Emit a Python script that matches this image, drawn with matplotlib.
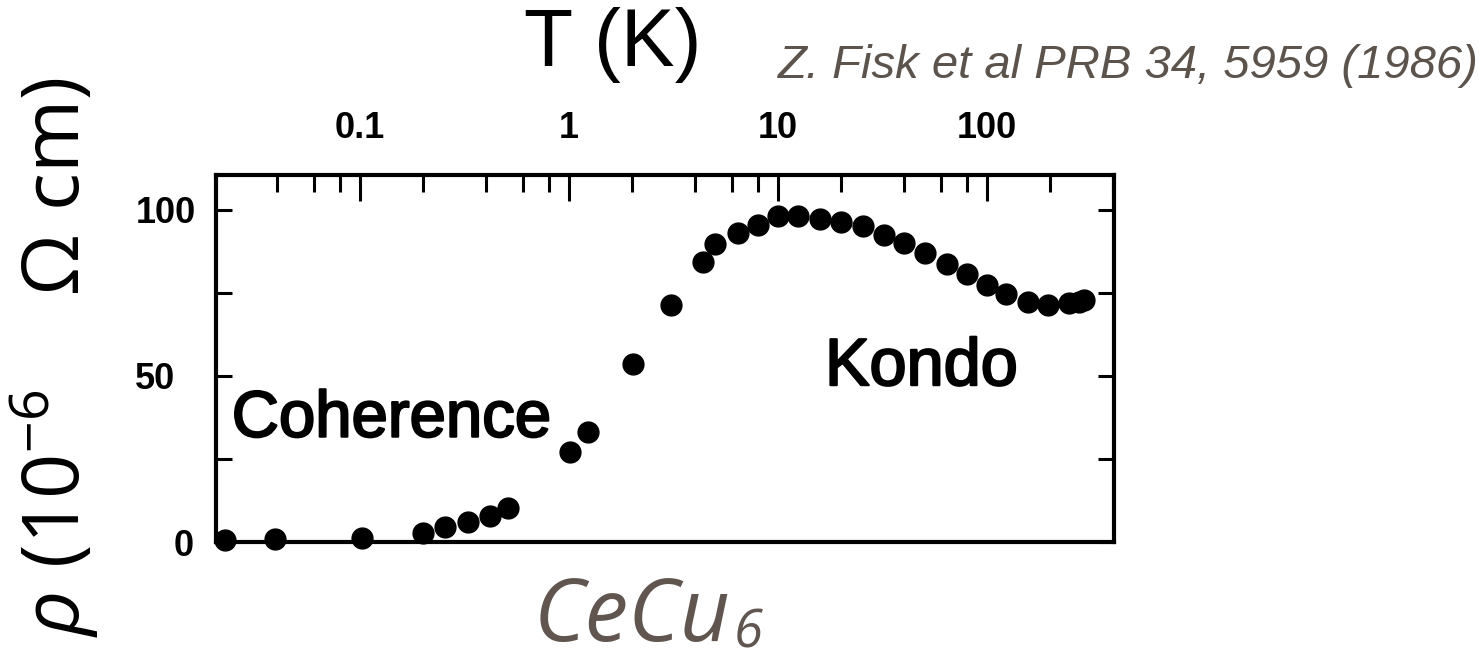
import matplotlib.pyplot as plt
import matplotlib.ticker as mticker
import matplotlib.patheffects as pe
from matplotlib.transforms import ScaledTranslation

# CeCu6 resistivity vs temperature (Fisk et al., PRB 34, 5959)
temperature = [0.0225, 0.039, 0.1016, 0.2005, 0.255, 0.329, 0.418, 0.512,
               1.01, 1.236, 2.03, 3.06, 4.38, 4.99, 6.43, 8.03, 10.0, 12.5,
               15.9, 19.95, 25.6, 32.1, 40.1, 50.6, 64.3, 80.0, 100.5, 123,
               158, 197, 248, 276, 292]
rho = [0.6, 0.8, 1.1, 2.8, 4.6, 6.1, 7.8, 10.1,
       27.2, 33.2, 53.7, 71.3, 84.3, 89.8, 93.0, 95.3, 98.0, 98.0,
       97.3, 96.3, 95.0, 92.3, 90.0, 87.0, 83.6, 80.5, 77.3, 74.6,
       72.3, 71.3, 71.8, 72.3, 72.8]

t_ticks = [0.1, 1, 10, 100]
t_labels = ["0.1", "1", "10", "100"]
rho_ticks = [0, 50, 100]
rho_labels = ["0", "50", "100"]
rho_minor = [25, 75]

plt.rcParams["font.family"] = ["Liberation Sans", "DejaVu Sans"]
plt.rcParams["mathtext.fontset"] = "custom"
plt.rcParams["mathtext.rm"] = "Open Sans"
plt.rcParams["mathtext.it"] = "Open Sans:italic"

fig = plt.figure(figsize=(14.79, 6.63), dpi=100)
ax = fig.add_axes([0.146, 0.1825, 0.6072, 0.5535])

ax.plot(temperature, rho, "o", color="black", markersize=15, clip_on=False)

ax.set_xscale("log")
ax.set_xlim(0.0204, 406)
ax.set_ylim(0, 110.4)

for spine in ax.spines.values():
    spine.set_linewidth(3)

# temperature axis sits on top, ticks pointing in
ax.xaxis.set_ticks_position("top")
ax.set_xticks(t_ticks)
ax.set_xticklabels(t_labels)
ax.xaxis.set_minor_locator(mticker.LogLocator(base=10, subs=[2, 4, 6, 8]))
ax.xaxis.set_minor_formatter(mticker.NullFormatter())
ax.tick_params(axis="x", which="major", direction="in", length=19, width=2.2,
               pad=21, labelsize=26)
ax.tick_params(axis="x", which="minor", direction="in", length=12, width=2.2)

ax.yaxis.set_ticks_position("both")
ax.set_yticks(rho_ticks)
ax.set_yticklabels(rho_labels)
ax.set_yticks(rho_minor, minor=True)
ax.tick_params(axis="y", which="both", direction="in", length=11.5, width=2.2)
ax.tick_params(axis="y", which="major", pad=58, labelsize=26)

for lab in ax.get_xticklabels() + ax.get_yticklabels():
    lab.set_fontweight("bold")
for lab in ax.get_yticklabels():
    lab.set_horizontalalignment("left")
zero = ax.get_yticklabels()[0]
zero.set_transform(zero.get_transform() + ScaledTranslation(0.38, 0, fig.dpi_scale_trans))

heavy = [pe.withStroke(linewidth=1.6, foreground="black")]
ax.text(0.0243, 31.7, "Coherence", fontsize=47, va="baseline", ha="left",
        path_effects=heavy)
ax.text(16.8, 47.2, "Kondo", fontsize=48, va="baseline", ha="left",
        path_effects=heavy)

fig.text(613 / 1479, 1 - 45 / 663, "T (K)", fontsize=58, ha="center", va="center")
fig.text(778 / 1479, 1 - 78 / 663, "Z. Fisk et al PRB 34, 5959 (1986)",
         fontsize=34, style="italic", color="#5b534c", va="baseline")

fig.text(55 / 1479, 1 - 357 / 663,
         r"$\rho\ (10^{-6}\ \ \ \ \Omega\ \mathrm{cm})$",
         fontsize=57, rotation=90, ha="center", va="center")

# compound name with the subscript set right after it
name = fig.text(534 / 1479, 1 - 641 / 663, "CeCu", family="Open Sans",
                style="italic", fontsize=63, color="#61564f", va="baseline")
fig.canvas.draw()
name_box = name.get_window_extent()
fig.text(name_box.x1 / fig.bbox.width + 3 / 1479, 1 - 648 / 663, "6",
         family="Open Sans", style="italic", fontsize=38, color="#61564f",
         va="baseline")

fig.savefig("out.png", dpi=100)
